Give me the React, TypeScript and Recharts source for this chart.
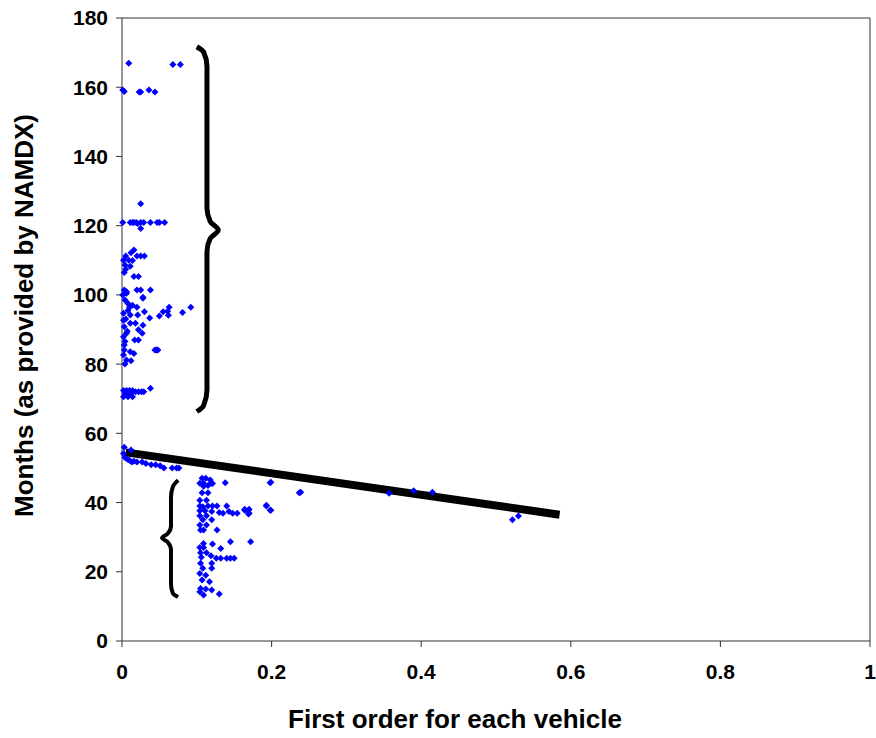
import {
  ComposedChart,
  Line,
  ReferenceLine,
  Scatter,
  XAxis,
  YAxis,
} from "recharts";

const xTicks = [0, 0.2, 0.4, 0.6, 0.8, 1];
const yTicks = [0, 20, 40, 60, 80, 100, 120, 140, 160, 180];

// vehicles above the trend (older ones), first order share vs months
const upperCluster: [number, number][] = [
  [0.009, 166.9], [0.068, 166.6], [0.078, 166.6], [0.003, 158.8], [0.001, 159.2],
  [0.023, 158.6], [0.025, 158.6], [0.036, 159.2], [0.044, 158.6], [0.025, 126.3],
  [0.001, 120.9], [0.011, 120.9], [0.014, 120.9], [0.016, 120.9], [0.019, 120.9],
  [0.025, 120.9], [0.029, 120.9], [0.038, 120.9], [0.047, 120.9], [0.05, 120.9],
  [0.057, 120.9], [0.025, 119.2], [0.021, 120.6],
  [0.016, 113], [0.012, 112.2], [0.005, 111.2], [0.02, 111.2], [0.025, 111.2],
  [0.03, 111.2], [0.002, 110], [0.009, 110], [0.014, 109.9], [0.004, 108.6],
  [0.011, 108.3], [0.005, 107.4], [0.003, 106.5], [0.016, 105.3], [0.022, 105.3],
  [0.003, 101.4], [0.02, 101.4], [0.025, 101.4], [0.038, 101.4], [0.006, 100.5],
  [0.001, 100], [0.028, 99.3], [0.006, 100.9], [0.028, 99], [0.004, 98.5], [0.008, 97.5],
  [0.01, 96.4], [0.02, 96.4], [0.063, 96.4], [0.092, 96.4], [0.061, 95.3],
  [0.055, 95.1], [0.081, 94.9], [0.03, 95.1], [0.002, 94.7], [0.011, 94.2],
  [0.021, 94.2], [0.05, 93.9], [0.062, 94.1], [0.037, 93.3], [0.002, 92.7],
  [0.011, 91.8], [0.018, 91.8], [0.003, 90.8], [0.028, 91.2], [0.022, 89.9],
  [0.027, 88.9], [0.006, 88.9], [0.002, 87.9], [0.004, 86.5], [0.017, 87],
  [0.022, 87], [0.003, 85.5], [0.003, 84.1], [0.044, 84.1], [0.048, 84.1],
  [0.046, 84.1], [0.011, 83.6], [0.016, 83.1], [0.002, 82.6], [0.006, 81.2],
  [0.012, 81], [0.004, 80], [0.007, 89.5], [0.005, 93], [0.008, 95.5], [0.014, 97],
  [0.002, 72.4], [0.006, 72.4], [0.01, 72.4], [0.014, 72.4], [0.018, 72],
  [0.022, 72], [0.026, 72], [0.029, 72], [0.038, 73], [0.002, 70.6],
  [0.008, 70.6], [0.014, 70.6], [0.004, 71.5], [0.012, 71.5],
];

// the band just under the trend line start
const bandCluster: [number, number][] = [
  [0.003, 56], [0.002, 54.2], [0.012, 55.2], [0.007, 52.5], [0.013, 51.7],
  [0.02, 51.7], [0.027, 51.7], [0.032, 51.3], [0.039, 50.9], [0.045, 50.9],
  [0.051, 50.6], [0.056, 50], [0.067, 50], [0.073, 50], [0.076, 50],
  [0.004, 53], [0.01, 52.2], [0.016, 51.9],
];

// newer vehicles, first order around 0.1
const lowerCluster: [number, number][] = [
  [0.107, 47], [0.112, 47], [0.118, 46.5], [0.121, 45.5], [0.109, 45.6],
  [0.104, 45.6], [0.115, 44.9], [0.119, 45.6], [0.109, 44.7], [0.138, 45.7],
  [0.198, 45.7], [0.237, 42.8], [0.107, 42.8], [0.115, 42.8], [0.104, 40.7],
  [0.113, 40.7], [0.104, 39], [0.108, 38.8], [0.115, 39], [0.121, 39],
  [0.127, 39], [0.14, 39], [0.164, 38.1], [0.17, 38.1], [0.193, 39.2],
  [0.198, 37.8], [0.104, 37.6], [0.111, 37.6], [0.12, 37.4], [0.13, 37.1],
  [0.135, 36.9], [0.143, 37.4], [0.148, 36.9], [0.154, 36.9], [0.17, 36.9],
  [0.104, 36.2], [0.113, 36.2], [0.108, 35], [0.12, 35], [0.104, 33.5],
  [0.113, 33.5], [0.105, 32.1], [0.109, 32.1], [0.127, 32.1], [0.145, 28.7],
  [0.172, 28.7], [0.109, 28.2], [0.121, 28], [0.104, 27], [0.109, 27],
  [0.132, 26.7], [0.105, 25.5], [0.113, 25.5], [0.119, 24.6], [0.106, 24.2],
  [0.126, 23.9], [0.132, 23.9], [0.14, 23.9], [0.145, 23.9], [0.15, 23.9],
  [0.105, 22.5], [0.12, 22.5], [0.108, 21], [0.12, 21], [0.104, 19.5],
  [0.112, 19], [0.107, 17.6], [0.117, 17.1], [0.105, 15.2], [0.112, 15],
  [0.12, 14.7], [0.109, 13.3], [0.13, 13.6], [0.104, 14.2],
];

const outliers: [number, number][] = [
  [0.199, 45.9], [0.239, 43], [0.164, 37.8], [0.169, 37.8], [0.169, 36.7],
  [0.193, 39], [0.199, 37.8], [0.357, 42.7], [0.39, 43.4], [0.415, 43],
  [0.522, 35], [0.53, 36.1],
];

const trendLine: [number, number][] = [
  [0.005, 54.5],
  [0.585, 36.5],
];

// curly brackets drawn over the chart
const bigBrace: [number, number][] = [
  [0.1, 171.7], [0.109, 170.2], [0.1136, 166], [0.1136, 125], [0.118, 121.2],
  [0.1287, 118.75], [0.118, 116.3], [0.1136, 112.5], [0.1136, 72.5], [0.109, 68],
  [0.1, 66.3],
];
const smallBrace: [number, number][] = [
  [0.075, 46.5], [0.068, 44.6], [0.0655, 41.5], [0.0655, 33.2], [0.061, 31],
  [0.0535, 29.8], [0.061, 28.6], [0.0655, 26.3], [0.0655, 16.5], [0.068, 13.8],
  [0.075, 12.7],
];

const toPoints = (pairs: [number, number][]) =>
  pairs.map(([x, y]) => ({ x, y }));

const scatterData = toPoints([
  ...upperCluster,
  ...bandCluster,
  ...lowerCluster,
  ...outliers,
]);

const font = "Liberation Sans, Arial, sans-serif";

const Diamond = (props: any) => {
  const { cx, cy } = props;
  const r = 3.5;
  return (
    <path
      d={`M${cx},${cy - r}L${cx + r},${cy}L${cx},${cy + r}L${cx - r},${cy}Z`}
      fill="#0000ff"
    />
  );
};

const YLabel = (props: any) => {
  const { viewBox } = props;
  const x = viewBox.x + 19;
  const y = viewBox.y + viewBox.height / 2 - 14;
  return (
    <text
      x={x}
      y={y}
      transform={`rotate(-90 ${x} ${y})`}
      textAnchor="middle"
      dominantBaseline="central"
      fontFamily={font}
      fontWeight="bold"
      fontSize={26}
      fill="#000"
    >
      Months (as provided by NAMDX)
    </text>
  );
};

const XLabel = (props: any) => {
  const { viewBox } = props;
  const x = viewBox.x + viewBox.width / 2 - 41;
  const y = 719;
  return (
    <text
      x={x}
      y={y}
      textAnchor="middle"
      dominantBaseline="central"
      fontFamily={font}
      fontWeight="bold"
      fontSize={26}
      fill="#000"
    >
      First order for each vehicle
    </text>
  );
};

const App = () => {
  return (
    <div style={{ position: "absolute", left: 0, top: 0, background: "#fff" }}>
      <ComposedChart
        width={876}
        height={738}
        margin={{ top: 18, right: 6, bottom: 5, left: 5 }}
      >
        <XAxis
          dataKey="x"
          type="number"
          domain={[0, 1]}
          ticks={xTicks}
          height={92}
          stroke="#333"
          tickSize={6}
          tickMargin={17}
          tick={{ fill: "#000", fontSize: 21, fontWeight: "bold", fontFamily: font }}
          label={<XLabel />}
        />
        <YAxis
          dataKey="y"
          type="number"
          domain={[0, 180]}
          ticks={yTicks}
          width={117}
          stroke="#333"
          tickSize={6}
          tickMargin={8}
          tick={{ fill: "#000", fontSize: 21, fontWeight: "bold", fontFamily: font }}
          label={<YLabel />}
        />
        <ReferenceLine y={180} stroke="#333" />
        <ReferenceLine x={1} stroke="#333" />
        <Scatter
          data={scatterData}
          dataKey="y"
          shape={<Diamond />}
          isAnimationActive={false}
        />
        <Line
          data={toPoints(trendLine)}
          dataKey="y"
          stroke="#000"
          strokeWidth={8}
          dot={false}
          isAnimationActive={false}
        />
        <Line
          data={toPoints(bigBrace)}
          dataKey="y"
          type="monotoneY"
          stroke="#000"
          strokeWidth={5}
          dot={false}
          isAnimationActive={false}
        />
        <Line
          data={toPoints(smallBrace)}
          dataKey="y"
          type="monotoneY"
          stroke="#000"
          strokeWidth={4}
          dot={false}
          isAnimationActive={false}
        />
      </ComposedChart>
    </div>
  );
};

export default App;
